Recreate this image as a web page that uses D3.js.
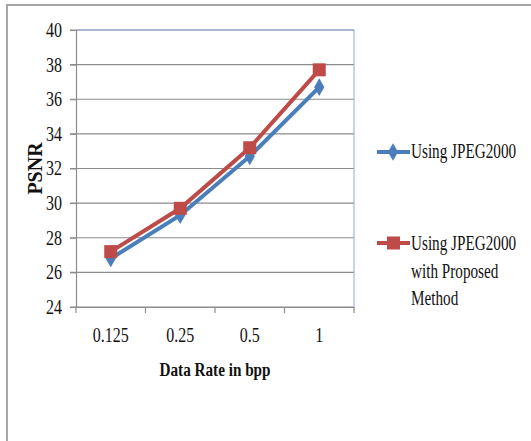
<!DOCTYPE html>
<html>
<head>
<meta charset="utf-8">
<script src="https://cdn.jsdelivr.net/npm/d3@7"></script>
<style>
  body { margin: 0; background: #fff; }
  svg text { font-family: "Liberation Serif", "Times New Roman", serif !important; fill: #111; }
</style>
</head>
<body>
<div id="chart"></div>
<script>
// PSNR vs data rate

var categories = ["0.125", "0.25", "0.5", "1"]
var jpeg2000 = [26.8, 29.3, 32.7, 36.7]
var proposed = [27.2, 29.7, 33.2, 37.7]
var yTicks = [24, 26, 28, 30, 32, 34, 36, 38, 40]
var seriesNames = ["Using JPEG2000", "Using JPEG2000 with Proposed Method"]

var width = 531, height = 441
var margin = {top: 30, right: 177, bottom: 134, left: 76}
var squeeze = 0.8

var svg = d3.select('#chart')
  .append('svg')
    .attr('width', width)
    .attr('height', height)

// outer frame (only left and top visible)
svg.append('path')
    .attr('d', 'M7,441 V5 H531')
    .attr('fill', 'none')
    .attr('stroke', '#a6a6a6')
    .attr('stroke-width', 2)

var x = d3.scaleBand()
    .domain(categories)
    .range([margin.left, width - margin.right])

var y = d3.scaleLinear()
    .domain([24, 40])
    .range([height - margin.bottom, margin.top])

// condensed text helper
var label = (g, tx, ty, str, size, sx, bold) => g.append('text')
    .attr('transform', 'translate(' + tx + ',' + ty + ') scale(' + sx + ',1)')
    .attr('font-size', size)
    .attr('font-weight', bold ? 'bold' : null)
    .text(str)

// gridlines
svg.append('g')
  .selectAll('line')
  .data(yTicks)
  .join('line')
    .attr('x1', margin.left - 6)
    .attr('x2', width - margin.right)
    .attr('y1', d => y(d))
    .attr('y2', d => y(d))
    .attr('stroke', '#8c8c8c')
    .attr('stroke-width', 1.2)

// plot frame top/right (blueish)
svg.append('path')
    .attr('d', 'M' + margin.left + ',' + y(40) + ' H' + (width - margin.right) + ' V' + y(24))
    .attr('fill', 'none')
    .attr('stroke', '#8eaadb')
    .attr('stroke-width', 1)

var yAxis = g => g
    .attr('transform', 'translate(' + margin.left + ',0)')
    .call(d3.axisLeft(y).tickValues(yTicks).tickSize(6).tickPadding(6))
    .call(g => g.select('.domain').attr('stroke', '#8c8c8c').attr('stroke-width', 1.2))
    .call(g => g.selectAll('.tick line').attr('stroke', '#8c8c8c'))
    .call(g => g.selectAll('.tick text')
        .attr('x', -14 / squeeze)
        .attr('transform', 'scale(' + squeeze + ',1)')
        .attr('font-size', 20)
        .attr('fill', '#111'))

var xAxis = g => g
    .attr('transform', 'translate(0,' + y(24) + ')')
    .call(d3.axisBottom(x).tickSize(0).tickPadding(21))
    .call(g => g.select('.domain').attr('stroke', '#8c8c8c').attr('stroke-width', 1.2))
    .call(g => g.selectAll('.tick text')
        .attr('transform', 'scale(' + squeeze + ',1)')
        .attr('font-size', 20)
        .attr('fill', '#111'))

svg.append('g').call(yAxis)
svg.append('g').call(xAxis)

// band separators as ticks
svg.append('g')
  .selectAll('line')
  .data(d3.range(categories.length + 1))
  .join('line')
    .attr('x1', i => margin.left + i * x.step())
    .attr('x2', i => margin.left + i * x.step())
    .attr('y1', y(24))
    .attr('y2', y(24) + 6)
    .attr('stroke', '#8c8c8c')
    .attr('stroke-width', 1.2)

var line = d3.line()
    .x((d, i) => x(categories[i]) + x.bandwidth() / 2)
    .y(d => y(d))

var blue = '#4a7ebb', red = '#be4b48'

svg.append('path')
    .attr('d', line(jpeg2000))
    .attr('fill', 'none')
    .attr('stroke', blue)
    .attr('stroke-width', 4)

svg.append('g')
  .selectAll('path')
  .data(jpeg2000)
  .join('path')
    .attr('d', d3.symbol(d3.symbolDiamond, 90))
    .attr('transform', (d, i) => 'translate(' + (x(categories[i]) + x.bandwidth() / 2) + ',' + y(d) + ')')
    .attr('fill', blue)

svg.append('path')
    .attr('d', line(proposed))
    .attr('fill', 'none')
    .attr('stroke', red)
    .attr('stroke-width', 4)

svg.append('g')
  .selectAll('rect')
  .data(proposed)
  .join('rect')
    .attr('x', (d, i) => x(categories[i]) + x.bandwidth() / 2 - 6.5)
    .attr('y', d => y(d) - 6.5)
    .attr('width', 13)
    .attr('height', 13)
    .attr('fill', red)

// axis titles
svg.append('text')
    .attr('transform', 'translate(42,' + ((y(40) + y(24)) / 2) + ') rotate(-90)')
    .attr('text-anchor', 'middle')
    .attr('font-size', 20)
    .attr('font-weight', 'bold')
    .text('PSNR')

label(svg, (margin.left + width - margin.right) / 2, 376, 'Data Rate in bpp', 19, squeeze, true)
    .attr('text-anchor', 'middle')

// legend
var legend = svg.append('g')

legend.append('line')
    .attr('x1', 377).attr('x2', 410)
    .attr('y1', 152).attr('y2', 152)
    .attr('stroke', blue).attr('stroke-width', 4)
legend.append('path')
    .attr('d', d3.symbol(d3.symbolDiamond, 90))
    .attr('transform', 'translate(393,152)')
    .attr('fill', blue)
label(legend, 411, 158, seriesNames[0], 20, 0.76)

legend.append('line')
    .attr('x1', 377).attr('x2', 410)
    .attr('y1', 243).attr('y2', 243)
    .attr('stroke', red).attr('stroke-width', 4)
legend.append('rect')
    .attr('x', 387).attr('y', 236.5)
    .attr('width', 13).attr('height', 13)
    .attr('fill', red)

var words = ['Using JPEG2000', 'with Proposed', 'Method']
words.forEach((w, i) => label(legend, 411, 250 + i * 27.5, w, 20, 0.76))
</script>
</body>
</html>
